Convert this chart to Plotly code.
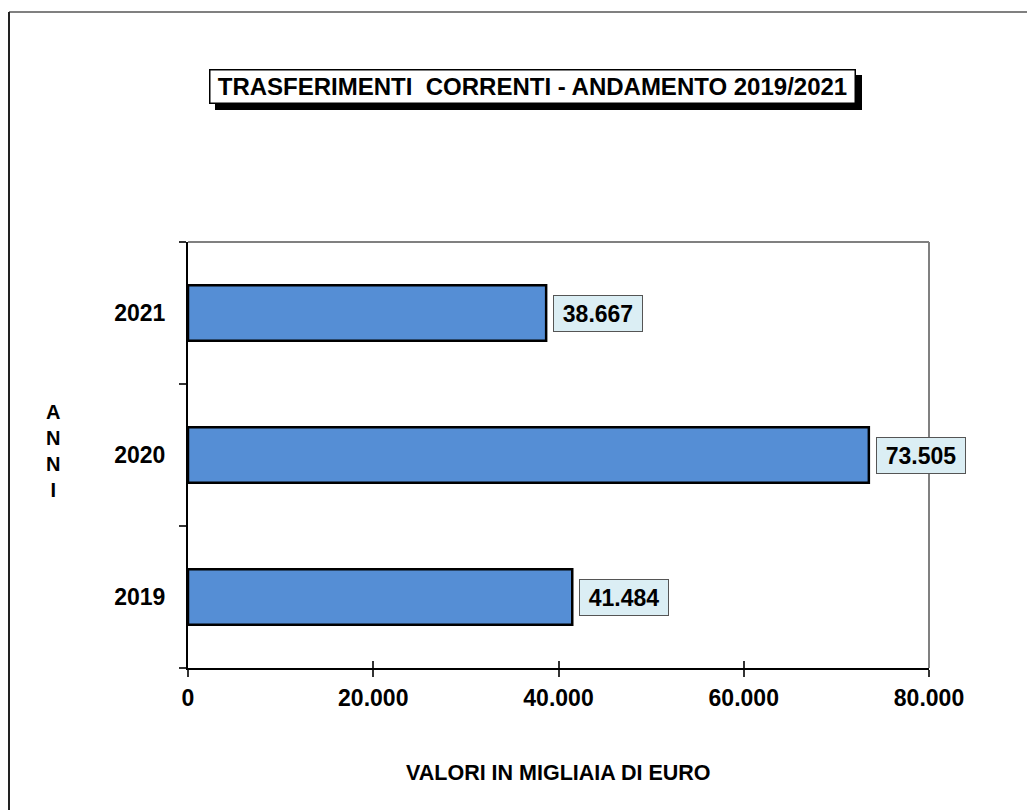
import plotly.graph_objects as go

# dati
anni = ["2019", "2020", "2021"]
valori = [41484, 73505, 38667]
etichette = ["41.484", "73.505", "38.667"]
tick_x = [0, 20000, 40000, 60000, 80000]
tick_x_testo = ["0", "20.000", "40.000", "60.000", "80.000"]

FONT = "Liberation Sans, Arial, sans-serif"

# area del grafico in pixel della pagina (la pagina ha 8px di margine)
L, R, T, B = 188, 929, 242, 668
OFF = 8


def px(x):
    return (x - L) / (R - L)


def py(y):
    return (B - y) / (B - T)


fig = go.Figure()
fig.add_trace(go.Bar(
    x=valori, y=anni, orientation="h",
    width=0.39,
    marker=dict(color="#558ed5", line=dict(color="black", width=2.5)),
    hoverinfo="x+y", showlegend=False,
))
# traccia invisibile per l'asse con tacche interne
fig.add_trace(go.Scatter(
    x=valori, y=anni, xaxis="x2", mode="markers",
    marker=dict(opacity=0), hoverinfo="skip", showlegend=False,
))

# etichette dei valori in riquadri
for i, (v, t) in enumerate(zip(valori, etichette)):
    fig.add_annotation(
        x=v, y=i, xref="x", yref="y", text="<b>%s</b>" % t,
        xanchor="left", yanchor="middle", xshift=7, showarrow=False,
        width=78, height=25,
        font=dict(family=FONT, size=23, color="black"),
        bgcolor="#dbeef4", bordercolor="#555555", borderwidth=1, borderpad=5,
    )

titolo = "<b>TRASFERIMENTI  CORRENTI - ANDAMENTO 2019/2021</b>"
# ombra del titolo
fig.add_annotation(
    x=px(532.5), y=py(86.5), xref="paper", yref="paper",
    text=" ", showarrow=False, xshift=6, yshift=-6,
    xanchor="center", yanchor="middle", width=634, height=22,
    font=dict(family=FONT, size=24, color="black"),
    bgcolor="black", bordercolor="black", borderwidth=1.5, borderpad=5,
)
fig.add_annotation(
    x=px(532.5), y=py(86.5), xref="paper", yref="paper",
    text=titolo, showarrow=False,
    xanchor="center", yanchor="middle", width=634, height=22,
    font=dict(family=FONT, size=24, color="black"),
    bgcolor="white", bordercolor="black", borderwidth=1.5, borderpad=5,
)
# titolo asse y
fig.add_annotation(
    x=px(53), y=py(451), xref="paper", yref="paper",
    text="<b>A<br>N<br>N<br>I</b>", showarrow=False,
    xanchor="center", yanchor="middle",
    font=dict(family=FONT, size=20, color="black"),
)
# titolo asse x
fig.add_annotation(
    x=px(558), y=py(773), xref="paper", yref="paper",
    text="<b>VALORI IN MIGLIAIA DI EURO</b>", showarrow=False,
    xanchor="center", yanchor="middle",
    font=dict(family=FONT, size=21.5, color="black"),
)

# cornice dell'area del grafico e della pagina
fig.add_shape(type="line", xref="paper", yref="paper", x0=0, x1=1, y0=1, y1=1,
              line=dict(color="#808080", width=2))
fig.add_shape(type="line", xref="paper", yref="paper", x0=1, x1=1, y0=0, y1=1,
              line=dict(color="#808080", width=2))
fig.add_shape(type="line", xref="paper", yref="paper",
              x0=px(9), x1=px(1040), y0=py(12), y1=py(12),
              line=dict(color="#808080", width=2))
fig.add_shape(type="line", xref="paper", yref="paper",
              x0=px(9), x1=px(9), y0=py(12), y1=py(820),
              line=dict(color="#222222", width=2))

fig.update_layout(
    width=1035 - OFF, height=810 - OFF,
    margin=dict(l=L - OFF, r=1035 - R, t=T - OFF, b=810 - B),
    paper_bgcolor="white", plot_bgcolor="white",
    separators=",.",
    bargap=0.61,
    xaxis=dict(
        range=[0, 80000], tickvals=tick_x, ticktext=tick_x_testo,
        showgrid=False, zeroline=False,
        showline=True, linecolor="black", linewidth=2,
        ticks="outside", ticklen=7, tickwidth=1.5, tickcolor="#333333",
        tickfont=dict(family=FONT, size=23, color="black", weight="bold"),
        ticklabelstandoff=1,
    ),
    xaxis2=dict(
        overlaying="x", anchor="y", side="bottom",
        range=[0, 80000], tickvals=tick_x, showticklabels=False,
        showgrid=False, zeroline=False, showline=False,
        ticks="inside", ticklen=7, tickwidth=1.5, tickcolor="#333333",
    ),
    yaxis=dict(
        type="category", categoryorder="array", categoryarray=anni,
        range=[-0.5, 2.5], tickson="boundaries",
        showgrid=False, zeroline=False,
        showline=True, linecolor="black", linewidth=2,
        ticks="outside", ticklen=7, tickwidth=1.5, tickcolor="#333333",
        tickfont=dict(family=FONT, size=23, color="black", weight="bold"),
        ticklabelstandoff=16,
    ),
)

fig.write_html("out.html")
